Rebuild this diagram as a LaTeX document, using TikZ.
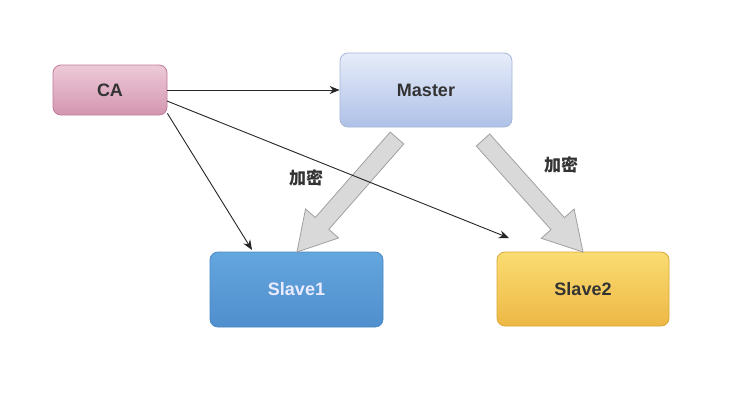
\documentclass[tikz,border=0pt]{standalone}
\usepackage{fontspec}
\setmainfont{Liberation Sans}
\newfontfamily\cjk{Noto Sans CJK SC}
\usetikzlibrary{arrows.meta,calc}
\definecolor{caTop}{HTML}{EDCAD8}
\definecolor{caBot}{HTML}{D396B0}
\definecolor{caLine}{HTML}{C07A98}
\definecolor{maTop}{HTML}{E6ECF9}
\definecolor{maBot}{HTML}{AFC1E8}
\definecolor{maLine}{HTML}{A6B6D8}
\definecolor{s1Top}{HTML}{64A6DE}
\definecolor{s1Bot}{HTML}{4F8FCD}
\definecolor{s1Line}{HTML}{4A88C4}
\definecolor{s2Top}{HTML}{FADC72}
\definecolor{s2Bot}{HTML}{EDB845}
\definecolor{s2Line}{HTML}{D9A838}
\definecolor{txt}{HTML}{333333}
\definecolor{fatFill}{HTML}{D9D9D9}
\definecolor{fatLine}{HTML}{A0A0A0}
\tikzset{
  box/.style={rounded corners=8pt, line width=0.8pt, inner sep=0pt, font=\fontsize{18}{20}\selectfont\bfseries, text=txt},
  thin arrow/.style={line width=0.9pt, -{Stealth[length=10pt,width=8pt]}, black!85},
  fat/.style={fill=fatFill, draw=fatLine, line width=0.8pt, line join=miter},
  lbl/.style={font=\cjk\bfseries\fontsize{17}{19}\selectfont, text=txt}
}
\begin{document}
\begin{tikzpicture}[x=1pt,y=-1pt]
\useasboundingbox (0,0) rectangle (735,400);
\fill[white] (0,0) rectangle (735,400);
\node[box, top color=caTop, bottom color=caBot, draw=caLine, minimum width=114pt, minimum height=50pt] (ca) at (110,90) {CA};
\node[box, top color=maTop, bottom color=maBot, draw=maLine, minimum width=172pt, minimum height=74pt] (master) at (426,90) {Master};
\node[box, top color=s1Top, bottom color=s1Bot, draw=s1Line, text=white!92!blue, minimum width=173pt, minimum height=75pt] (slave1) at (296.5,289.5) {Slave1};
\node[box, top color=s2Top, bottom color=s2Bot, draw=s2Line, minimum width=172pt, minimum height=74pt] (slave2) at (583,289) {Slave2};
% tips
\coordinate (t1) at (252,250);
\coordinate (t2) at (509,238);
\coordinate (s2) at (167,101);
% fat arrows
\coordinate (fa1) at (397,138);
\coordinate (fb1) at (297,252);
\coordinate (fh1) at ($(fb1)!38pt!(fa1)$);
\draw[fat] ($(fa1)!9pt!90:(fb1)$) -- ($(fh1)!9pt!-90:(fa1)$) -- ($(fh1)!22pt!-90:(fa1)$) -- (fb1) -- ($(fh1)!22pt!90:(fa1)$) -- ($(fh1)!9pt!90:(fa1)$) -- ($(fa1)!9pt!-90:(fb1)$) -- cycle;
\coordinate (fa2) at (483,140);
\coordinate (fb2) at (583,252);
\coordinate (fh2) at ($(fb2)!38pt!(fa2)$);
\draw[fat] ($(fa2)!9pt!90:(fb2)$) -- ($(fh2)!9pt!-90:(fa2)$) -- ($(fh2)!22pt!-90:(fa2)$) -- (fb2) -- ($(fh2)!22pt!90:(fa2)$) -- ($(fh2)!9pt!90:(fa2)$) -- ($(fa2)!9pt!-90:(fb2)$) -- cycle;
% thin arrows
\draw[thin arrow] (ca.east) -- (master.west);
\draw[thin arrow] ($(ca.south east)+(0,-2)$) -- (t1);
\draw[thin arrow] (s2) -- (t2);
% labels
\node[lbl] (l1) at (306,178) {加密};
\node[lbl] (l2) at (561,165) {加密};
\end{tikzpicture}
\end{document}
